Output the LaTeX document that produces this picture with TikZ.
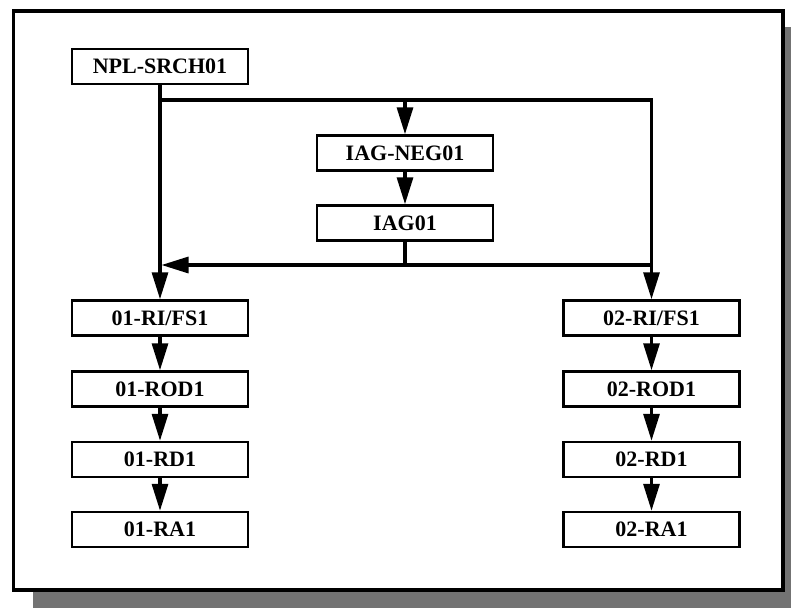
\documentclass[tikz,border=0pt]{standalone}
\usepackage{fontspec}
\setmainfont{Liberation Serif}
\usetikzlibrary{arrows.meta}
\begin{document}
\begin{tikzpicture}[x=1pt,y=-1pt,
  stepbox/.style={draw,line width=2.5pt,fill=white,minimum width=176pt,minimum height=35pt,inner sep=0pt,
    font=\fontsize{22}{24}\selectfont\bfseries},
  conn/.style={line width=3.2pt,line join=miter},
  arr/.style={line width=3.2pt,line join=miter,-{Triangle[length=27pt,width=16pt]}}]
\useasboundingbox (0,0) rectangle (791,608);
% shadow and frame
\fill[black!55] (33,27) rectangle (791,608);
\draw[line width=3.8pt,fill=white] (13.5,11) rectangle (783,590);
% nodes
\node[stepbox] (npl) at (160,66.5) {NPL-SRCH01};
\node[stepbox] (neg) at (405,153) {IAG-NEG01};
\node[stepbox] (iag) at (405,223) {IAG01};
\node[stepbox] (ri1) at (160,318) {01-RI/FS1};
\node[stepbox] (rod1) at (160,389) {01-ROD1};
\node[stepbox] (rd1) at (160,459.5) {01-RD1};
\node[stepbox] (ra1) at (160,529.5) {01-RA1};
\node[stepbox] (ri2) at (651.5,318) {02-RI/FS1};
\node[stepbox] (rod2) at (651.5,389) {02-ROD1};
\node[stepbox] (rd2) at (651.5,459.5) {02-RD1};
\node[stepbox] (ra2) at (651.5,529.5) {02-RA1};
% junctions
\coordinate (j1) at (160,100);
\coordinate (j2) at (651.5,100);
\coordinate (j6) at (405,100);
\coordinate (j3) at (405,265);
\coordinate (j4) at (161.5,265);
\coordinate (j5) at (651.5,265);
% connectors
\draw[arr] (npl.south) -- (ri1.north);
\draw[arr] (j1) -- (j2) -- (ri2.north);
\draw[arr] (j6) -- (neg.north);
\draw[arr] (neg.south) -- (iag.north);
\draw[conn] (iag.south) -- (j3) -- (j5);
\draw[arr] (j3) -- (j4);
\draw[arr] (ri1.south) -- (rod1.north);
\draw[arr] (rod1.south) -- (rd1.north);
\draw[arr] (rd1.south) -- (ra1.north);
\draw[arr] (ri2.south) -- (rod2.north);
\draw[arr] (rod2.south) -- (rd2.north);
\draw[arr] (rd2.south) -- (ra2.north);
\end{tikzpicture}
\end{document}
